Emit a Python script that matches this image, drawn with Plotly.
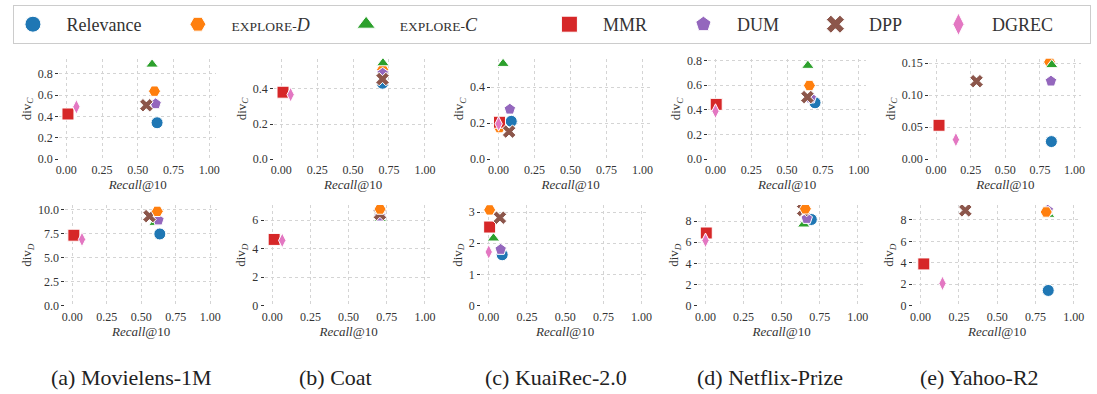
import plotly.graph_objects as go

W, H = 1097, 394

NB = "\u00a0"
methods = ["Relevance", "EXPLORE-D", "EXPLORE-C", "MMR", "DUM", "DPP", "DGREC"]
legend_labels = [
    "Relevance",
    "<span style='font-size:13.5px'>EXPLORE-</span><i>D</i>",
    "<span style='font-size:13.5px'>EXPLORE-</span><i>C</i>",
    "MMR", "DUM", "DPP", "DGREC",
]
legend_pre = [3, 3, 3, 3, 3, 3, 3]
legend_post = [7, 7, 15, 7, 7, 7, 7]
colors = ["#1f77b4", "#ff7f0e", "#2ca02c", "#d62728", "#9467bd", "#8c564b", "#e377c2"]
symbols = ["circle", "hexagon2", "triangle-up", "square", "pentagon", "x", "diamond-tall"]
sizes = [12, 12, 11, 12, 12, 12, 10.5]
# drawing order (back to front) in each row
order_top = [0, 1, 2, 3, 4, 5, 6]
order_bottom = [0, 2, 3, 4, 5, 6, 1]

datasets = ["(a) Movielens-1M", "(b) Coat", "(c) KuaiRec-2.0", "(d) Netflix-Prize", "(e) Yahoo-R2"]

# Recall@10 per dataset (order of methods)
recall_ml = [0.635, 0.617, 0.600, 0.012, 0.625, 0.560, 0.071]
recall_coat = [0.705, 0.706, 0.708, 0.012, 0.706, 0.705, 0.065]
recall_kuai = [0.088, 0.006, 0.031, 0.006, 0.078, 0.073, 0.000]
recall_netflix = [0.695, 0.656, 0.645, 0.005, 0.665, 0.642, 0.000]
recall_yahoo = [0.833, 0.820, 0.836, 0.021, 0.830, 0.292, 0.143]

# div_C per dataset
divc_ml = [0.341, 0.637, 0.888, 0.423, 0.518, 0.505, 0.490]
divc_coat = [0.432, 0.510, 0.547, 0.381, 0.488, 0.456, 0.367]
divc_kuai = [0.210, 0.175, 0.530, 0.205, 0.277, 0.153, 0.196]
divc_netflix = [0.458, 0.598, 0.760, 0.445, 0.496, 0.504, 0.390]
divc_yahoo = [0.0275, 0.152, 0.1475, 0.053, 0.122, 0.122, 0.0305]

# div_D per dataset
divd_ml = [7.47, 9.83, 8.65, 7.34, 8.92, 9.33, 6.90]
divd_coat = [6.30, 6.77, 6.09, 4.64, 6.27, 6.43, 4.57]
divd_kuai = [1.63, 3.07, 2.16, 2.52, 1.80, 2.82, 1.72]
divd_netflix = [8.15, 9.16, 7.70, 6.87, 8.24, 9.05, 6.17]
divd_yahoo = [1.41, 8.74, 8.50, 3.89, 8.90, 8.89, 2.07]

x_ticks = [0, 0.25, 0.5, 0.75, 1.0]

recalls = [recall_ml, recall_coat, recall_kuai, recall_netflix, recall_yahoo]
divcs = [divc_ml, divc_coat, divc_kuai, divc_netflix, divc_yahoo]
divds = [divd_ml, divd_coat, divd_kuai, divd_netflix, divd_yahoo]

# layout geometry (pixels)
top_x = [(55.5, 214), (272.1, 431.2), (491, 650.5), (709.5, 868.2), (932, 1085.3)]
bot_x = [(61.75, 214.65), (262.6, 431.7), (480.6, 650), (699, 867.7), (915.6, 1085.4)]
top_y = (55.5, 159)
bot_y = (206.2, 310)
top_ymax = [0.94, 0.571, 0.557, 0.815, 0.157]
bot_ymax = [10.5, 7.06, 3.23, 9.53, 9.4]
top_dtick = [0.2, 0.2, 0.2, 0.2, 0.05]
top_fmt = [".1f", ".1f", ".1f", ".1f", ".2f"]
bot_dtick = [2.5, 2, 1, 2, 2]
bot_fmt = [".1f", "d", "d", "d", "d"]
caption_x = [128, 334, 556, 772, 983]

FONT = "Liberation Serif, Times New Roman, Tinos, DejaVu Serif, serif"
TXT = "#333333"

fig = go.Figure()

# legend-only entries (larger symbols)
for m, lab, pre, post, c, s in zip(methods, legend_labels, legend_pre, legend_post, colors, symbols):
    fig.add_trace(go.Scatter(
        x=[None], y=[None], mode="markers", name=NB * pre + lab + NB * post, legendgroup=m,
        marker=dict(color=c, symbol=s, size=16, line=dict(color="white", width=1)),
        xaxis="x", yaxis="y", showlegend=True, hoverinfo="skip"))

for j in range(5):
    for row, vals, order in ((0, divcs[j], order_top), (1, divds[j], order_bottom)):
        k = row * 5 + j + 1
        for i in order:
            fig.add_trace(go.Scatter(
                x=[recalls[j][i]], y=[vals[i]], mode="markers", name=methods[i],
                legendgroup=methods[i], showlegend=False,
                marker=dict(color=colors[i], symbol=symbols[i], size=sizes[i],
                            line=dict(color="white", width=1)),
                xaxis="x" if k == 1 else f"x{k}", yaxis="y" if k == 1 else f"y{k}"))

layout = dict(
    width=W, height=H, margin=dict(l=0, r=0, t=0, b=0),
    paper_bgcolor="white", plot_bgcolor="white",
    font=dict(family=FONT, color=TXT, size=12),
    showlegend=True,
    legend=dict(orientation="h", x=9 / W, y=1.0, xanchor="left", yanchor="top",
                bordercolor="#cccccc", borderwidth=1, bgcolor="white",
                font=dict(family=FONT, size=18, color=TXT)),
)

annotations = []
for j in range(5):
    for row in range(2):
        k = row * 5 + j + 1
        xs = top_x[j] if row == 0 else bot_x[j]
        ys = top_y if row == 0 else bot_y
        ymax = top_ymax[j] if row == 0 else bot_ymax[j]
        dt = top_dtick[j] if row == 0 else bot_dtick[j]
        fmt = top_fmt[j] if row == 0 else bot_fmt[j]
        sub = "C" if row == 0 else "D"
        xa = dict(domain=[xs[0] / W, xs[1] / W], range=[-0.05, 1.05],
                  tickvals=x_ticks, tickformat=".2f",
                  showgrid=True, gridcolor="#d4d4d4", griddash="dot", gridwidth=1,
                  zeroline=False, showline=False, ticks="", ticklabelstandoff=2,
                  tickfont=dict(family=FONT, size=12, color=TXT),
                  title=dict(text="<i>Recall</i>@10", standoff=2,
                             font=dict(family=FONT, size=13, color=TXT)),
                  anchor="y" if k == 1 else f"y{k}", fixedrange=True)
        ya = dict(domain=[1 - ys[1] / H, 1 - ys[0] / H], range=[0, ymax],
                  dtick=dt, tick0=0, tickformat=fmt,
                  showgrid=True, gridcolor="#d4d4d4", griddash="dot", gridwidth=1,
                  zeroline=False, showline=False, ticks="outside", ticklen=3,
                  tickcolor=TXT, tickwidth=1,
                  tickfont=dict(family=FONT, size=12, color=TXT),
                  title=dict(text=f"div<sub><i>{sub}</i></sub>", standoff=3,
                             font=dict(family=FONT, size=13, color=TXT)),
                  anchor="x" if k == 1 else f"x{k}", fixedrange=True)
        layout["xaxis" if k == 1 else f"xaxis{k}"] = xa
        layout["yaxis" if k == 1 else f"yaxis{k}"] = ya
    annotations.append(dict(text=datasets[j], x=caption_x[j] / W, y=1 - 384 / H,
                            xref="paper", yref="paper", showarrow=False,
                            xanchor="center", yanchor="middle",
                            font=dict(family=FONT, size=22, color="#222222")))
layout["annotations"] = annotations
fig.update_layout(**layout)
fig.write_html("out.html", config={"displayModeBar": False},
               post_script="document.body.style.margin='0';")
